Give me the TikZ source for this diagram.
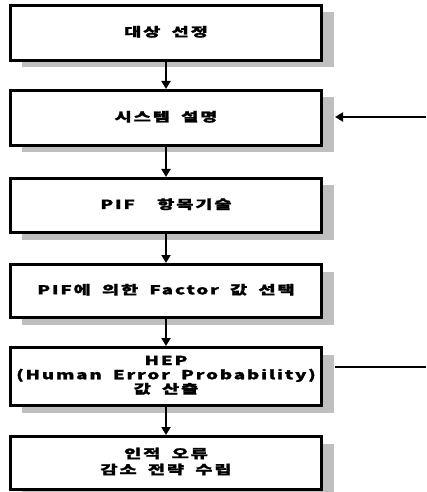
\documentclass[tikz,border=0pt]{standalone}
\usepackage{fontspec}
\usepackage{graphicx}
\setmainfont{Noto Sans CJK KR}[LetterSpace=10, FakeBold=1.3]
\newcommand\widetxt[1]{\scalebox{1.5}[1]{\spaceskip=0.6em\relax\begin{tabular}{@{}c@{}}#1\end{tabular}}}
\usetikzlibrary{arrows.meta,shadows}
\begin{document}
\begin{tikzpicture}[x=1bp,y=-1bp,
  box/.style={draw, line width=3bp, fill=white, minimum width=311bp,
    inner sep=0pt, align=center,
    font=\bfseries\fontsize{12.5}{12.5}\selectfont,
    drop shadow={shadow xshift=12bp, shadow yshift=-7bp, fill=gray!50, opacity=1, draw=none}},
  conn/.style={line width=2.2bp},
  arr/.style={conn, -{Triangle[length=8bp,width=9bp]}}]
\useasboundingbox (0,0) rectangle (426,492);
\node[box, minimum height=55bp] (b1) at (166,33) {\widetxt{대상 선정}};
\node[box, minimum height=55bp] (b2) at (166,118) {\widetxt{시스템 설명}};
\node[box, minimum height=54bp] (b3) at (166,205.5) {\widetxt{PIF \ 항목기술}};
\node[box, minimum height=53bp] (b4) at (166,291) {\widetxt{PIF에 의한 Factor 값 선택}};
\node[box, minimum height=58bp] (b5) at (166,376.5) {\widetxt{HEP\\(Human Error Probability)\\값 산출}};
\node[box, minimum height=53bp, font=\bfseries\fontsize{12.5}{16}\selectfont] (b6) at (166,463) {\widetxt{인적 오류\\감소 전략 수립}};
\draw[arr] (b1) -- (b2);
\draw[arr] (b2) -- (b3);
\draw[arr] (b3) -- (b4);
\draw[arr] (b4) -- (b5);
\draw[arr] (b5) -- (b6);
\coordinate (in2) at (426,117);
\draw[arr] (in2) -- ([xshift=12bp]b2.east |- in2);
\coordinate (out5) at (426,367);
\draw[conn] ([xshift=12bp]b5.east |- out5) -- (out5);
\end{tikzpicture}
\end{document}
